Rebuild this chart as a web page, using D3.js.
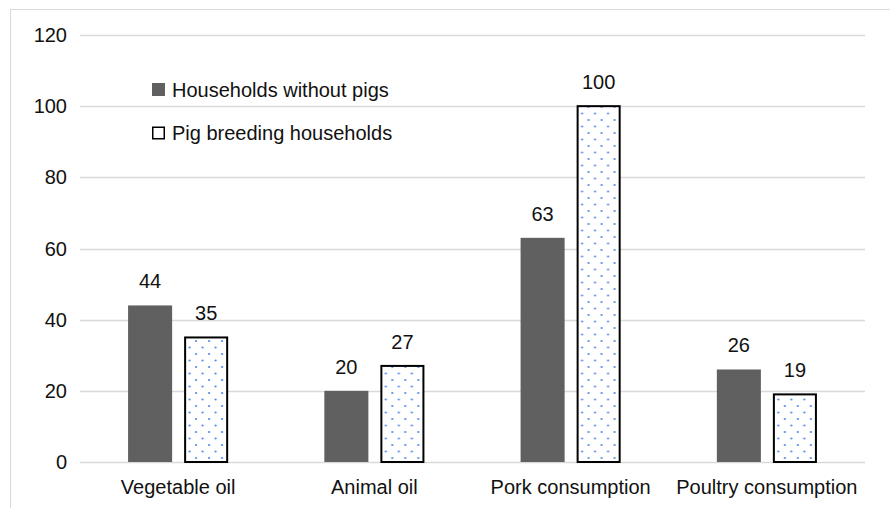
<!DOCTYPE html>
<html>
<head>
<meta charset="utf-8">
<script src="https://cdn.jsdelivr.net/npm/d3@7"></script>
<style>
  html, body { margin: 0; padding: 0; background: #fff; }
  svg { display: block; font-family: "Liberation Sans", Arial, sans-serif; }
</style>
</head>
<body>
<svg id="chart" width="890" height="508"></svg>
<script>
// Chart data
const categories = ["Vegetable oil", "Animal oil", "Pork consumption", "Poultry consumption"];
const seriesNames = ["Households without pigs", "Pig breeding households"];
const withoutPigs = [44, 20, 63, 26];
const pigBreeding = [35, 27, 100, 19];
const yTicks = [0, 20, 40, 60, 80, 100, 120];

const svg = d3.select("#chart");
const W = 890, H = 508;
const plot = { left: 80, right: 865, top: 35, bottom: 462 };
const FS = 20;
const TEXT = "#111";

// Outer frame
svg.append("rect")
  .attr("x", 10.5).attr("y", 9.5)
  .attr("width", W).attr("height", H)
  .attr("fill", "none").attr("stroke", "#d9d9d9").attr("stroke-width", 1);

// Dotted fill for the second series
const defs = svg.append("defs");
const pat = defs.append("pattern")
  .attr("id", "dots")
  .attr("patternUnits", "userSpaceOnUse")
  .attr("width", 13).attr("height", 13);
pat.append("rect").attr("width", 13).attr("height", 13).attr("fill", "#fff");
pat.append("circle").attr("cx", 3).attr("cy", 3).attr("r", 1.1).attr("fill", "#4f86e6");
pat.append("circle").attr("cx", 9.5).attr("cy", 9.5).attr("r", 1.1).attr("fill", "#4f86e6");

const y = d3.scaleLinear().domain([0, 120]).range([plot.bottom, plot.top]);
const x0 = d3.scaleBand().domain(categories)
  .range([plot.left, plot.right])
  .paddingInner(0.49).paddingOuter(0.245);
const x1 = d3.scaleBand().domain(seriesNames)
  .range([0, x0.bandwidth()])
  .paddingInner(0.214);

// Gridlines
svg.append("g").selectAll("line").data(yTicks).join("line")
  .attr("x1", plot.left).attr("x2", plot.right)
  .attr("y1", d => Math.round(y(d)) + 0.5).attr("y2", d => Math.round(y(d)) + 0.5)
  .attr("stroke", "#d9d9d9").attr("stroke-width", 1.5);

// Y axis tick labels
svg.append("g").selectAll("text").data(yTicks).join("text")
  .attr("x", 67).attr("y", d => y(d))
  .attr("dy", "0.35em")
  .attr("text-anchor", "end")
  .attr("font-size", FS).attr("fill", TEXT)
  .text(d => d);

// Bars
const rows = categories.map((c, i) => ({ cat: c, values: [withoutPigs[i], pigBreeding[i]] }));
const groups = svg.append("g").selectAll("g").data(rows).join("g")
  .attr("transform", d => `translate(${x0(d.cat)},0)`);

groups.selectAll("rect").data(d => d.values.map((v, j) => ({ key: seriesNames[j], v, j }))).join("rect")
  .attr("x", d => x1(d.key) + (d.j === 1 ? 1 : 0))
  .attr("y", d => y(d.v))
  .attr("width", d => x1.bandwidth() - (d.j === 1 ? 2 : 0))
  .attr("height", d => y(0) - y(d.v))
  .attr("fill", d => d.j === 0 ? "#606060" : "url(#dots)")
  .attr("stroke", d => d.j === 0 ? "none" : "#000")
  .attr("stroke-width", 2);

// Value labels
groups.selectAll("text").data(d => d.values.map((v, j) => ({ key: seriesNames[j], v, j }))).join("text")
  .attr("x", d => x1(d.key) + x1.bandwidth() / 2)
  .attr("y", d => y(d.v) - 17)
  .attr("text-anchor", "middle")
  .attr("font-size", FS).attr("fill", TEXT)
  .text(d => d.v);

// Category labels
svg.append("g").selectAll("text").data(categories).join("text")
  .attr("x", d => x0(d) + x0.bandwidth() / 2)
  .attr("y", 494)
  .attr("text-anchor", "middle")
  .attr("font-size", FS).attr("fill", TEXT)
  .text(d => d);

// Legend
const legend = svg.append("g").attr("transform", "translate(152,83)");
const items = legend.selectAll("g").data(seriesNames).join("g")
  .attr("transform", (d, i) => `translate(0,${i * 43.5})`);
items.append("rect")
  .attr("x", d => d === seriesNames[0] ? 0 : 0.75)
  .attr("y", d => d === seriesNames[0] ? 0 : 0.75)
  .attr("width", d => d === seriesNames[0] ? 13 : 11.5)
  .attr("height", d => d === seriesNames[0] ? 13 : 11.5)
  .attr("fill", d => d === seriesNames[0] ? "#606060" : "#fff")
  .attr("stroke", d => d === seriesNames[0] ? "none" : "#000")
  .attr("stroke-width", 1.5);
items.append("text")
  .attr("x", 20).attr("y", 13.5)
  .attr("font-size", FS).attr("fill", TEXT)
  .text(d => d);
</script>
</body>
</html>
